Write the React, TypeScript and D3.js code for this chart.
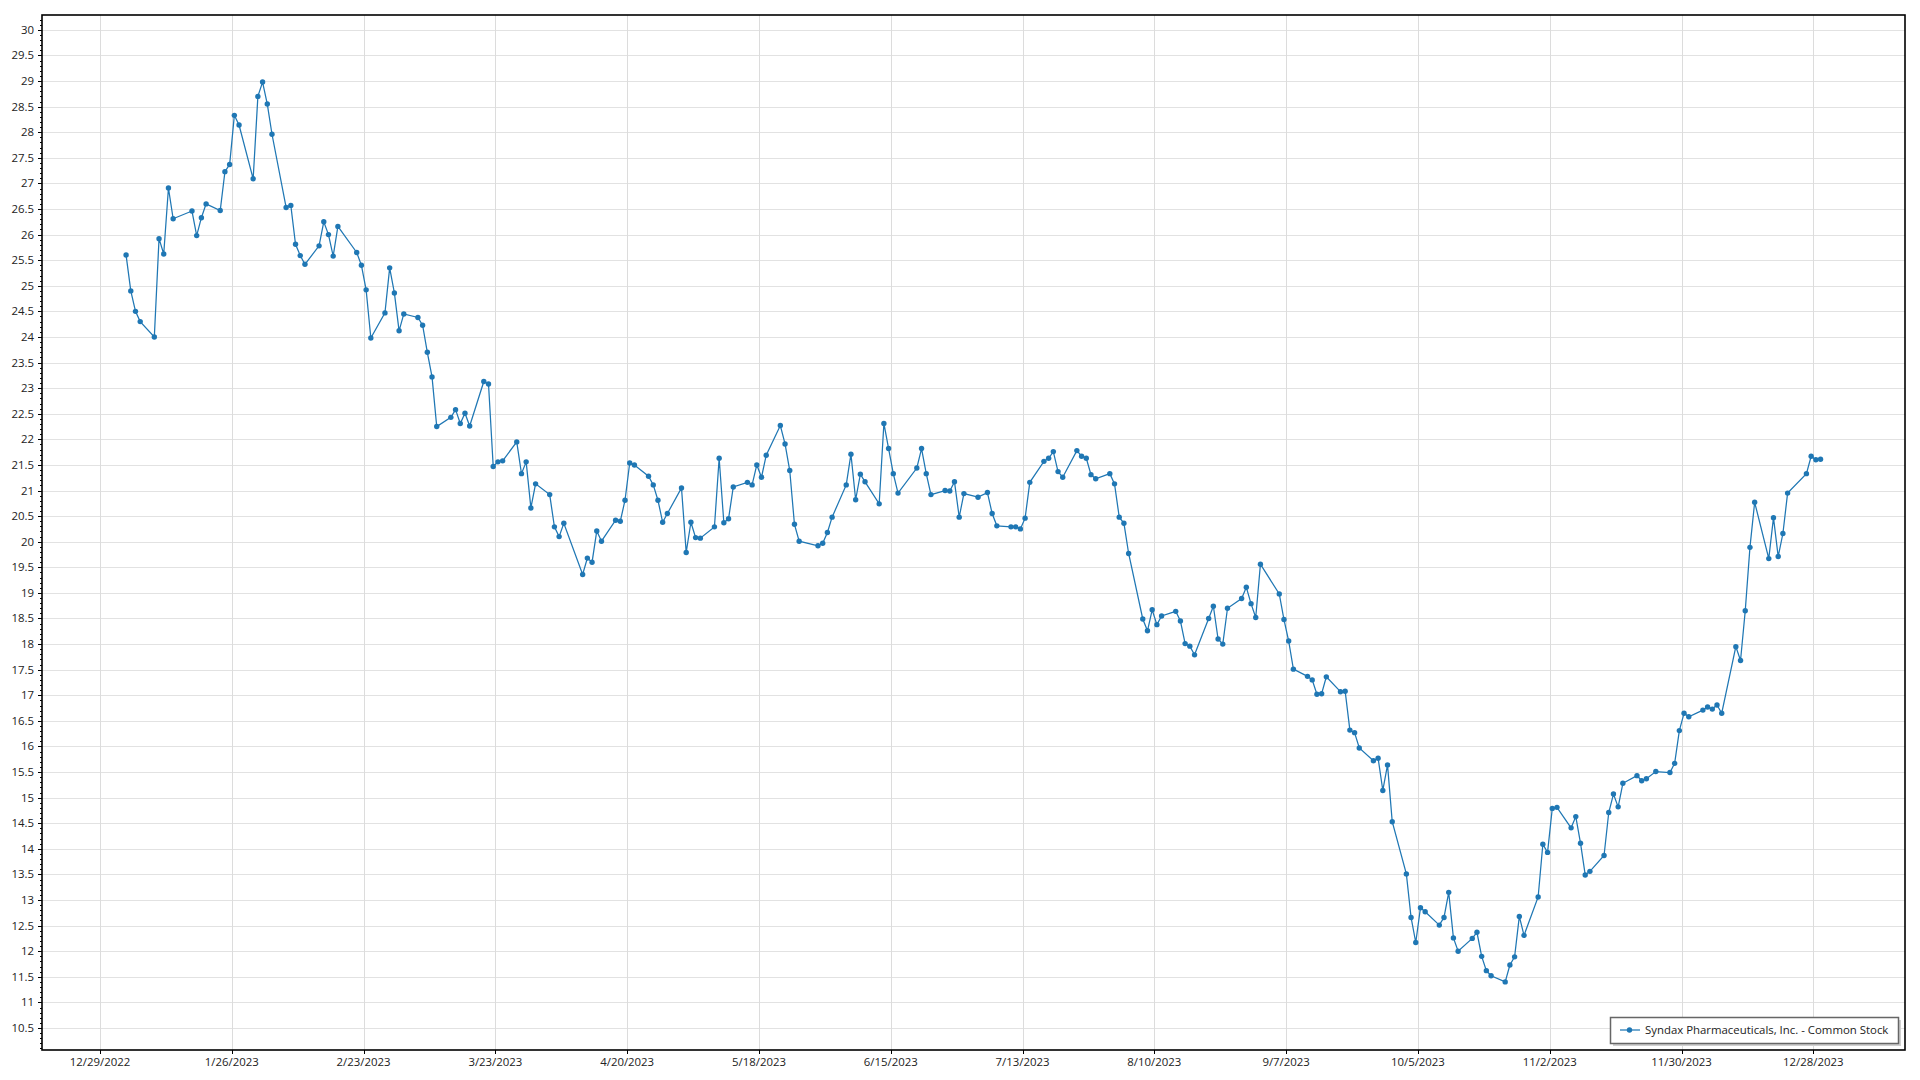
import * as d3 from 'd3';
import { useEffect, useRef } from 'react';

const serie = 'Syndax Pharmaceuticals, Inc. - Common Stock';

// cierres diarios 2023, un array por mes
const ene = [25.6, 24.9, 24.5, 24.3, 24.0, 25.92, 25.62, 26.91, 26.31, 26.46, 25.98, 26.33, 26.6, 26.47, 27.23, 27.37, 28.33, 28.14, 27.09, 28.7];
const feb = [28.98, 28.55, 27.96, 26.53, 26.57, 25.81, 25.59, 25.42, 25.78, 26.25, 26.0, 25.58, 26.16, 25.65, 25.4, 24.92, 23.98, 24.47, 25.35];
const mar = [24.86, 24.12, 24.45, 24.38, 24.23, 23.7, 23.22, 22.25, 22.43, 22.58, 22.31, 22.51, 22.26, 23.13, 23.08, 21.47, 21.56, 21.58, 21.95, 21.33, 21.56, 20.66, 21.13];
const abr = [20.92, 20.29, 20.1, 20.36, 19.36, 19.68, 19.6, 20.21, 20.01, 20.42, 20.4, 20.81, 21.54, 21.5, 21.28, 21.11, 20.81, 20.38, 20.55];
const may = [21.05, 19.79, 20.38, 20.08, 20.07, 20.29, 21.63, 20.37, 20.45, 21.07, 21.16, 21.11, 21.5, 21.26, 21.69, 22.27, 21.91, 21.39, 20.34, 20.01, 19.92, 19.97];
const jun = [20.18, 20.48, 21.11, 21.71, 20.82, 21.32, 21.17, 20.74, 22.31, 21.82, 21.33, 20.95, 21.44, 21.82, 21.33, 20.92, 21.0, 20.99, 21.17, 20.48, 20.94];
const jul = [20.87, 20.96, 20.55, 20.31, 20.29, 20.29, 20.25, 20.46, 21.16, 21.57, 21.63, 21.76, 21.37, 21.26, 21.78, 21.67, 21.63, 21.31, 21.23, 21.33];
const ago = [21.13, 20.48, 20.36, 19.77, 18.49, 18.26, 18.67, 18.38, 18.55, 18.64, 18.45, 18.01, 17.96, 17.79, 18.5, 18.74, 18.1, 18.0, 18.7, 18.89, 19.11, 18.79, 18.52];
const sep = [19.56, 18.98, 18.48, 18.06, 17.51, 17.37, 17.3, 17.02, 17.03, 17.36, 17.07, 17.08, 16.32, 16.27, 15.97, 15.72, 15.77, 15.14, 15.64, 14.53];
const oct = [13.51, 12.66, 12.17, 12.85, 12.77, 12.51, 12.66, 13.15, 12.26, 12.0, 12.25, 12.37, 11.9, 11.62, 11.52, 11.4, 11.73, 11.89, 12.68, 12.31, 13.06, 14.09];
const nov = [13.93, 14.79, 14.81, 14.41, 14.63, 14.11, 13.49, 13.56, 13.87, 14.71, 15.07, 14.82, 15.28, 15.43, 15.33, 15.37, 15.51, 15.49, 15.67, 16.31, 16.65];
const dic = [16.58, 16.71, 16.77, 16.73, 16.81, 16.65, 17.95, 17.68, 18.65, 19.89, 20.77, 19.67, 20.47, 19.71, 20.16, 20.95, 21.33, 21.67, 21.6, 21.61];

// días sin mercado (NYSE 2023)
const feriados = ['2023-01-02', '2023-01-16', '2023-02-20', '2023-04-07', '2023-05-29', '2023-06-19', '2023-07-04', '2023-09-04', '2023-11-23', '2023-12-25'];

const ticksX = ['12/29/2022', '1/26/2023', '2/23/2023', '3/23/2023', '4/20/2023', '5/18/2023', '6/15/2023', '7/13/2023', '8/10/2023', '9/7/2023', '10/5/2023', '11/2/2023', '11/30/2023', '12/28/2023'];
const ticksY = [10.5, 11, 11.5, 12, 12.5, 13, 13.5, 14, 14.5, 15, 15.5, 16, 16.5, 17, 17.5, 18, 18.5, 19, 19.5, 20, 20.5, 21, 21.5, 22, 22.5, 23, 23.5, 24, 24.5, 25, 25.5, 26, 26.5, 27, 27.5, 28, 28.5, 29, 29.5, 30];

type Punto = { fecha: Date; valor: number };

export default function App() {
  const svgRef = useRef<SVGSVGElement | null>(null);

  useEffect(() => {
    if (!svgRef.current) return;

    // fechas hábiles del año
    const fmtIso = d3.timeFormat('%Y-%m-%d');
    const habiles = d3.timeDays(new Date(2023, 0, 1), new Date(2024, 0, 1))
      .filter(d => d.getDay() !== 0 && d.getDay() !== 6 && !feriados.includes(fmtIso(d)));
    const valores = [...ene, ...feb, ...mar, ...abr, ...may, ...jun, ...jul, ...ago, ...sep, ...oct, ...nov, ...dic];
    const data: Punto[] = habiles.map((d, i) => ({
      fecha: new Date(d.getFullYear(), d.getMonth(), d.getDate(), 13),
      valor: valores[i],
    }));

    const W = 1920;
    const H = 1080;
    const left = 42;
    const top = 15;
    const right = 1905;
    const bottom = 1050;
    const font = "'Segoe UI', 'Open Sans', 'Noto Sans', sans-serif";
    const fs = 11.4;

    const parseTick = d3.timeParse('%m/%d/%Y');
    const fechasTick = ticksX.map(t => parseTick(t) as Date);

    const x = d3.scaleTime()
      .domain([fechasTick[0], fechasTick[fechasTick.length - 1]])
      .range([100, 1813.3]);
    const y = d3.scaleLinear().domain([10.07, 30.29]).range([bottom, top]);

    const svg = d3.select(svgRef.current);
    svg.selectAll('*').remove();
    svg.attr('width', W).attr('height', H).attr('font-family', font);

    svg.append('rect').attr('width', W).attr('height', H).attr('fill', '#fff');

    // grilla
    const grid = svg.append('g').attr('stroke', '#e2e2e2').attr('stroke-width', 1);
    grid.selectAll('line.h')
      .data(ticksY)
      .join('line')
      .attr('class', 'h')
      .attr('x1', left).attr('x2', right)
      .attr('y1', d => Math.round(y(d)) + 0.5).attr('y2', d => Math.round(y(d)) + 0.5);
    grid.selectAll('line.v')
      .data(fechasTick)
      .join('line')
      .attr('class', 'v')
      .attr('stroke', '#dcdcdc')
      .attr('x1', d => Math.round(x(d)) + 0.5).attr('x2', d => Math.round(x(d)) + 0.5)
      .attr('y1', top).attr('y2', bottom);

    // eje Y: ticks mayores, menores y etiquetas
    const ejeY = svg.append('g').attr('stroke', '#000').attr('stroke-width', 1);
    const menores = d3.range(101, 303).map(v => v / 10);
    ejeY.selectAll('line.menor')
      .data(menores)
      .join('line')
      .attr('class', 'menor')
      .attr('x1', left - 2).attr('x2', left)
      .attr('y1', d => Math.round(y(d)) + 0.5).attr('y2', d => Math.round(y(d)) + 0.5);
    ejeY.selectAll('line.mayor')
      .data(ticksY)
      .join('line')
      .attr('class', 'mayor')
      .attr('x1', left - 4).attr('x2', left)
      .attr('y1', d => Math.round(y(d)) + 0.5).attr('y2', d => Math.round(y(d)) + 0.5);

    svg.append('g')
      .selectAll('text')
      .data(ticksY)
      .join('text')
      .attr('x', left - 8)
      .attr('y', d => y(d))
      .attr('dy', '0.35em')
      .attr('text-anchor', 'end')
      .attr('font-size', fs)
      .attr('fill', '#222')
      .text(d => String(d));

    // eje X
    svg.append('g')
      .attr('stroke', '#000')
      .selectAll('line')
      .data(fechasTick)
      .join('line')
      .attr('x1', d => Math.round(x(d)) + 0.5).attr('x2', d => Math.round(x(d)) + 0.5)
      .attr('y1', bottom).attr('y2', bottom + 4);

    svg.append('g')
      .selectAll('text')
      .data(fechasTick)
      .join('text')
      .attr('x', d => x(d))
      .attr('y', bottom + 12)
      .attr('dy', '0.35em')
      .attr('text-anchor', 'middle')
      .attr('font-size', fs)
      .attr('fill', '#222')
      .text((_, i) => ticksX[i]);

    // marco del área de trazado
    svg.append('rect')
      .attr('x', left).attr('y', top)
      .attr('width', right - left).attr('height', bottom - top)
      .attr('fill', 'none')
      .attr('stroke', '#000')
      .attr('stroke-width', 1.6);

    // serie
    const color = '#1f77b4';
    const linea = d3.line<Punto>().x(d => x(d.fecha)).y(d => y(d.valor));
    svg.append('path')
      .datum(data)
      .attr('d', linea)
      .attr('fill', 'none')
      .attr('stroke', color)
      .attr('stroke-width', 1.25);
    svg.append('g')
      .attr('fill', color)
      .selectAll('circle')
      .data(data)
      .join('circle')
      .attr('cx', d => x(d.fecha))
      .attr('cy', d => y(d.valor))
      .attr('r', 2.7);

    // leyenda con sombrita
    const lx = 1610;
    const ly = 1017;
    const lw = 288;
    const lh = 26;
    const leyenda = svg.append('g');
    leyenda.append('rect')
      .attr('x', lx + 3).attr('y', ly + 3).attr('width', lw).attr('height', lh)
      .attr('fill', '#cfcfcf');
    leyenda.append('rect')
      .attr('x', lx + 0.5).attr('y', ly + 0.5).attr('width', lw).attr('height', lh)
      .attr('fill', '#fff')
      .attr('stroke', '#666')
      .attr('stroke-width', 1.5);
    leyenda.append('line')
      .attr('x1', lx + 10).attr('x2', lx + 30)
      .attr('y1', ly + 13).attr('y2', ly + 13)
      .attr('stroke', color).attr('stroke-width', 1.25);
    leyenda.append('circle')
      .attr('cx', lx + 19.5).attr('cy', ly + 13).attr('r', 2.7)
      .attr('fill', color);
    leyenda.append('text')
      .attr('x', lx + 35)
      .attr('y', ly + 13)
      .attr('dy', '0.35em')
      .attr('font-size', fs)
      .attr('fill', '#222')
      .text(serie);
  }, []);

  return (
    <div style={{ position: 'absolute', left: 0, top: 0 }}>
      <svg ref={svgRef} style={{ display: 'block' }} />
    </div>
  );
}
